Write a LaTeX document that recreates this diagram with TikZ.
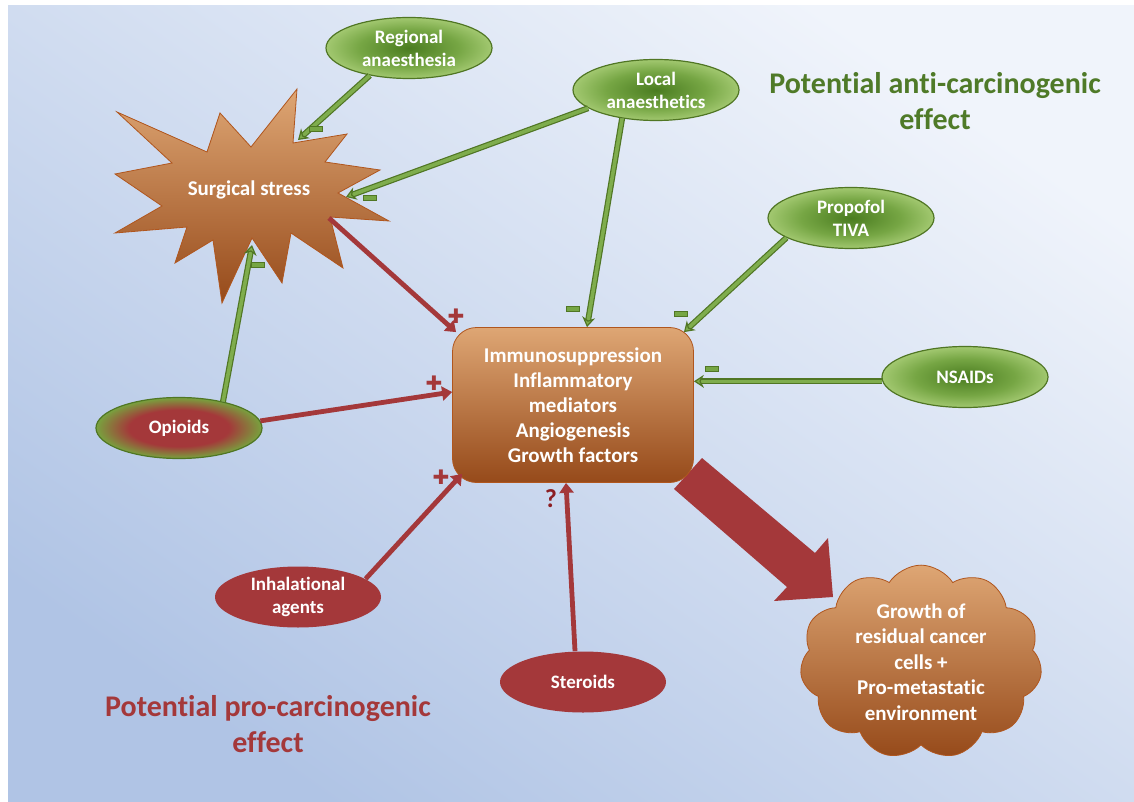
\documentclass[tikz,border=0pt]{standalone}
\usepackage{fontspec}
\setmainfont{Carlito}[Ligatures=CommonOff]
\newfontfamily\symfont{DejaVu Sans}
\usetikzlibrary{arrows.meta,shapes.geometric,shapes.symbols}

\definecolor{bgtop}{RGB}{240,244,251}
\definecolor{bgbot}{RGB}{176,196,229}
\definecolor{orangelight}{RGB}{222,166,116}
\definecolor{orangemid}{RGB}{202,114,48}
\definecolor{orangedark}{RGB}{150,74,26}
\definecolor{orangeline}{RGB}{176,86,30}
\definecolor{leafdark}{RGB}{74,124,32}
\definecolor{leafmid}{RGB}{118,166,68}
\definecolor{leaflight}{RGB}{162,200,112}
\definecolor{leafline}{RGB}{80,118,36}
\definecolor{antigreen}{RGB}{79,122,40}
\definecolor{prored}{RGB}{164,56,58}
\definecolor{quered}{RGB}{140,30,34}
\definecolor{opiring}{RGB}{120,162,62}

\pgfdeclareradialshading{leafglow}{\pgfpoint{0bp}{0bp}}{color(0bp)=(leafdark); color(15bp)=(leafmid); color(25bp)=(leaflight); color(50bp)=(leaflight)}
\pgfdeclareradialshading{opioidglow}{\pgfpoint{0bp}{0bp}}{color(0bp)=(prored); color(15bp)=(prored); color(25bp)=(opiring); color(50bp)=(opiring)}

\begin{document}
\begin{tikzpicture}[x=0.5pt,y=-0.5pt,
  agent/.style={ellipse, minimum width=83pt, minimum height=30.5pt, inner sep=0pt, text=white, font=\bfseries\fontsize{9.5}{11.5}\selectfont, align=center},
  anti/.style={agent, draw=leafline, line width=0.6pt, shading=leafglow},
  pro/.style={agent, fill=prored},
  blocker/.style={draw=leafline, line width=0.6pt, double=leafmid!80!leaflight, double distance=1.8pt, -{Stealth[length=5pt,width=6.5pt,fill=leafmid!80!leaflight]}},
  promoter/.style={draw=prored, line width=2.4pt, -{Triangle[length=5pt,width=7pt]}},
  minus/.style={draw=leafline, fill=leafmid, minimum width=6.5pt, minimum height=2.5pt, inner sep=0pt, line width=0.4pt},
  plus/.style={text=prored, font=\symfont\fontsize{10}{10}\selectfont, inner sep=0pt}]
\useasboundingbox (0,0) rectangle (1134,802);
\shade[top color=bgtop, bottom color=bgbot, shading angle=-35] (8,6) rectangle (1134,802);

\shadedraw[draw=orangeline, top color=orangelight, middle color=orangemid, bottom color=orangedark]
  (117,112) -- (207,152) -- (220,113) -- (251,147) -- (297,89) -- (293,143) -- (347,134) -- (325,162)
  -- (380,170) -- (338,193) -- (389,221) -- (330,217) -- (343,268) -- (291,233) -- (282,283) -- (252,238)
  -- (222,303) -- (213,240) -- (175,263) -- (187,227) -- (115,233) -- (162,206) -- (115,174) -- (172,163) -- cycle;
\node[text=white, font=\bfseries\fontsize{10.5}{12}\selectfont] (stress) at (249,190) {Surgical stress};
\coordinate (ssA) at (298,140);
\coordinate (ssB) at (346,197);
\coordinate (ssC) at (252,245);
\coordinate (ssD) at (329,218);

\fill[prored] (702,458) -- (815,553) -- (828,538) -- (833,597) -- (774,601) -- (787,587) -- (674,489) -- cycle;

\node[rectangle, rounded corners=12pt, minimum width=120.5pt, minimum height=77.5pt, draw=orangeline,
  top color=orangelight, middle color=orangemid, bottom color=orangedark, text=white,
  font=\bfseries\fontsize{10.5}{12.5}\selectfont, align=center] (hub) at (573,405)
  {Immunosuppression\\Inflammatory\\mediators\\Angiogenesis\\Growth factors};

\node[cloud, cloud puffs=11, cloud puff arc=115, aspect=1.35, draw=orangeline, top color=orangelight,
  middle color=orangemid, bottom color=orangedark, text=white, font=\bfseries\fontsize{10.5}{12.8}\selectfont,
  align=center, minimum width=121pt, minimum height=90pt, inner sep=0pt] (growth) at (921,662)
  {Growth of\\residual cancer\\cells +\\Pro-metastatic\\environment};

\node[anti] (regional) at (409,48) {Regional\\anaesthesia};
\node[anti] (local) at (656,90) {Local\\anaesthetics};
\node[anti] (propofol) at (851,218) {Propofol\\TIVA};
\node[anti] (nsaids) at (965,377) {NSAIDs};
\node[agent, draw=leafline, line width=0.6pt, shading=opioidglow] (opioids) at (179,428) {Opioids};
\node[pro] (inhal) at (298,597) {Inhalational\\agents};
\node[pro] (steroids) at (583,682) {Steroids};

\node[text=antigreen, font=\bfseries\fontsize{15}{18}\selectfont, align=center] (antititle) at (935,101) {Potential anti-carcinogenic\\effect};
\node[text=prored, font=\bfseries\fontsize{15}{18}\selectfont, align=center] (protitle) at (268,724) {Potential pro-carcinogenic\\effect};

\draw[blocker] (regional.215) -- (ssA);
\draw[blocker] (local.195) -- (ssB);
\draw[blocker] (local.220) -- ([xshift=7pt]hub.north);
\draw[blocker] (propofol.197) -- ([xshift=-5pt,yshift=-2.5pt]hub.north east);
\draw[blocker] (nsaids.183) -- (nsaids.183 -| hub.east);
\draw[blocker] (opioids.31) -- (ssC);
\draw[promoter] (ssD) -- ([xshift=2pt,yshift=-2.5pt]hub.north west);
\draw[promoter] (opioids.5) -- ([yshift=6.5pt]hub.west);
\draw[promoter] (inhal.15) -- ([xshift=5pt,yshift=4.5pt]hub.south west);
\draw[promoter] ([xshift=-4pt]steroids.north) -- ([xshift=-3.5pt]hub.south);

\node[minus] (m1) at (316,129) {};
\node[minus] (m2) at (370,198) {};
\node[minus] (m3) at (573,309) {};
\node[minus] (m4) at (681,314) {};
\node[minus] (m5) at (712,369) {};
\node[minus] (m6) at (258,265) {};
\node[plus] (p1) at (456,316) {✚};
\node[plus] (p2) at (434,383) {✚};
\node[plus] (p3) at (441,477) {✚};
\node[text=quered, font=\bfseries\fontsize{13}{13}\selectfont] (q1) at (551,499) {?};
\end{tikzpicture}
\end{document}
